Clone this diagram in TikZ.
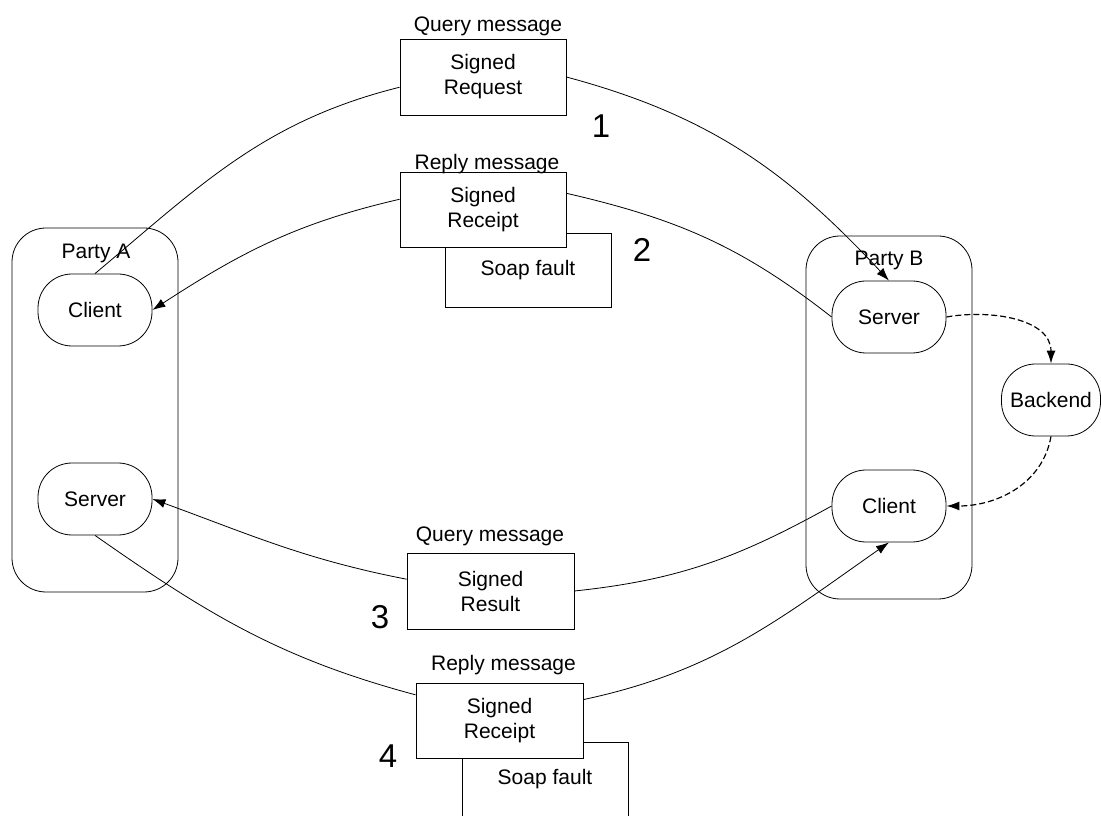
\documentclass[tikz,border=0pt]{standalone}
\usepackage{fontspec}
\setmainfont{Liberation Sans}
\usetikzlibrary{arrows.meta}

\begin{document}
\begin{tikzpicture}[x=1pt, y=1pt, line width=0.8pt, font=\fontsize{21}{25}\selectfont,
    party/.style={draw, rounded corners=34pt, minimum width=166pt, minimum height=364pt},
    role/.style={draw, rounded corners=34pt, minimum width=114pt, minimum height=72pt, inner sep=0pt},
    msg/.style={draw, fill=white, align=center, minimum width=166pt, minimum height=75pt, inner sep=0pt},
    num/.style={font=\fontsize{33}{33}\selectfont, anchor=base},
    flow/.style={-{Latex[length=13pt,width=9pt]}},
    back/.style={flow, line width=1.2pt, dash pattern=on 6pt off 3pt}]
    \clip (0,0) rectangle (1101,815);

    % the two parties
    \node[party] (partyA) at (95,405) {};
    \node[party, minimum height=363pt] (partyB) at (889,397.5) {};
    \node[anchor=base] (labA) at (96,556) {Party A};
    \node[anchor=base] (labB) at (889,549) {Party B};

    \node[role] (clientA) at (95,505) {Client};
    \node[role] (serverA) at (95,316) {Server};
    \node[role] (serverB) at (889,498) {Server};
    \node[role] (clientB) at (889,309) {Client};
    \node[role, minimum width=99pt] (backend) at (1051,415) {Backend};

    % messages
    \node[msg, minimum height=76pt] (req) at (483,738) {Signed\\Request};
    \node[anchor=base] (reqlab) at (488,783) {Query message};

    \node[msg, minimum height=74pt] (fault) at (528,545) {Soap fault};
    \node[msg] (receipt) at (483,605.5) {Signed\\Receipt};
    \node[anchor=base] (receiptlab) at (487,645) {Reply message};

    \node[msg, minimum width=167pt, minimum height=76pt] (result) at (490.5,224) {Signed\\Result};
    \node[anchor=base] (resultlab) at (490,273) {Query message};

    \node[msg, minimum width=166pt, minimum height=74pt] (faultb) at (545,36) {Soap fault};
    \node[msg, minimum width=167pt] (receiptb) at (499.5,94.5) {Signed\\Receipt};
    \node[anchor=base] (receiptblab) at (503.5,145) {Reply message};

    \node[num] (one) at (601,677.5) {1};
    \node[num] (two) at (642,553.5) {2};
    \node[num] (three) at (380,186.5) {3};
    \node[num] (four) at (388,47.5) {4};

    % 1: query A -> B
    \draw (clientA.north) to[out=40, in=194] (req.187);
    \draw[flow] (req.east) to[out=-15, in=133] (serverB.north);
    % 2: reply B -> A
    \draw (serverB.west) to[out=142, in=-13] (receipt.11);
    \draw[flow] (receipt.173) to[out=193, in=33] (clientA.east);
    % 3: query B -> A
    \draw (clientB.west) to[out=209, in=6] (result.east);
    \draw[flow] (result.172) to[out=169, in=-20] (serverA.east);
    % 4: reply A -> B
    \draw (serverA.south) to[out=-35, in=165] (receiptb.163);
    \draw[flow] (receiptb.14) to[out=12, in=215] (clientB.south);

    % backend round trip
    \draw[back] (serverB.east) to[out=10, in=90] (backend.north);
    \draw[back] (backend.south) to[out=-100, in=0] (clientB.east);
\end{tikzpicture}
\end{document}
